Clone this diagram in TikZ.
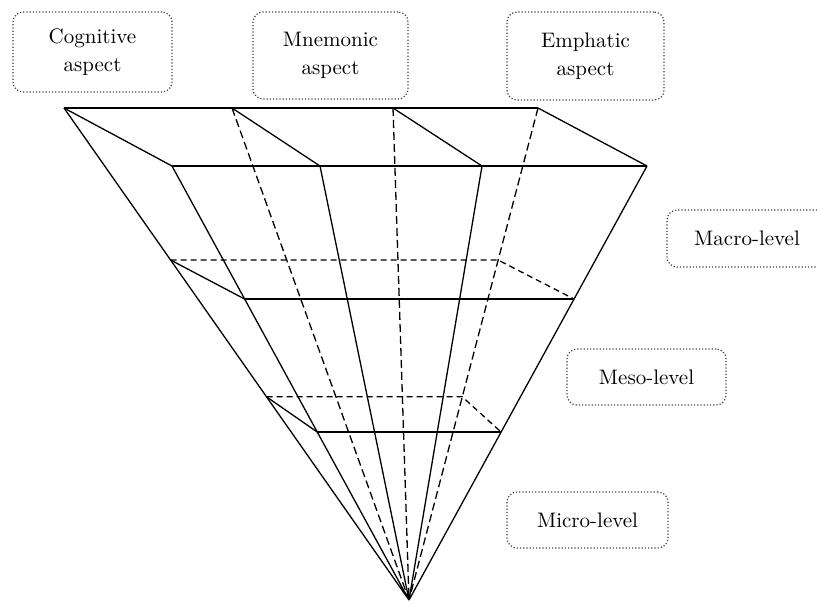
\documentclass[tikz,border=0pt]{standalone}
\usepackage{amsmath}
\usetikzlibrary{calc}

\begin{document}
\begin{tikzpicture}[x=0.5pt, y=-0.5pt]
        \tikzset{label box/.style={draw=black!75, line width=0.6pt, densely dotted, rounded corners=5pt, align=center, inner sep=0pt, font=\fontsize{10.5}{14}\selectfont}}
        % Define line weights for the pyramid
        \tikzstyle{rim}=[line width=1.3pt]
        \tikzstyle{edge}=[line width=0.65pt]
        \tikzstyle{hidden}=[line width=0.65pt, dash pattern=on 4pt off 2pt]
        \tikzstyle{cut}=[line width=1pt]
        \tikzstyle{cut hidden}=[line width=0.65pt, dash pattern=on 3pt off 2pt]

        \useasboundingbox (0,0) rectangle (817,605);

        \node[label box, minimum width=79.5pt, minimum height=40pt] (cog) at (92.5,52) {Cognitive\\aspect};
        \node[label box, minimum width=77.5pt, minimum height=43.5pt] (mne) at (330.5,55.5) {Mnemonic\\aspect};
        \node[label box, minimum width=78.5pt, minimum height=44pt] (emp) at (585.5,56) {Emphatic\\aspect};
        \node[label box, minimum width=80pt, minimum height=28.5pt] (macro) at (747,238.5) {Macro-level};
        \node[label box, minimum width=79.5pt, minimum height=28pt] (meso) at (646.5,377) {Meso-level};
        \node[label box, minimum width=80.5pt, minimum height=28pt] (micro) at (587.5,520) {Micro-level};

        \coordinate (b1) at (64,108);
        \coordinate (b2) at (232,108);
        \coordinate (b3) at (393,108);
        \coordinate (b4) at (538,108);
        \coordinate (f1) at (172,166);
        \coordinate (f2) at (320,166);
        \coordinate (f3) at (482,166);
        \coordinate (f4) at (647,166);
        \coordinate (apex) at (409,600);

        \draw[rim] (b1) -- (b4);
        \draw[rim] (f1) -- (f4);
        \draw[edge] (b1) -- (f1) (b2) -- (f2) (b3) -- (f3) (b4) -- (f4);
        \draw[edge] (b1) -- (apex) (f1) -- (apex) (f2) -- (apex) (f3) -- (apex) (f4) -- (apex);
        \draw[hidden] (b2) -- (apex) (b3) -- (apex) (b4) -- (apex);

        \coordinate (mb1) at ($(b1)!0.309!(apex)$);
        \coordinate (mb4) at ($(b4)!0.309!(apex)$);
        \coordinate (mf1) at ($(f1)!0.3065!(apex)$);
        \coordinate (mf4) at ($(f4)!0.3065!(apex)$);
        \draw[cut hidden] (mb1) -- (mb4) -- (mf4);
        \draw[edge] (mb1) -- (mf1);
        \draw[cut] (mf1) -- (mf4);

        \coordinate (lb1) at ($(b1)!0.587!(apex)$);
        \coordinate (lb4) at ($(b4)!0.587!(apex)$);
        \coordinate (lf1) at ($(f1)!0.613!(apex)$);
        \coordinate (lf4) at ($(f4)!0.613!(apex)$);
        \draw[cut hidden] (lb1) -- (lb4) -- (lf4);
        \draw[edge] (lb1) -- (lf1);
        \draw[cut] (lf1) -- (lf4);
\end{tikzpicture}
\end{document}
